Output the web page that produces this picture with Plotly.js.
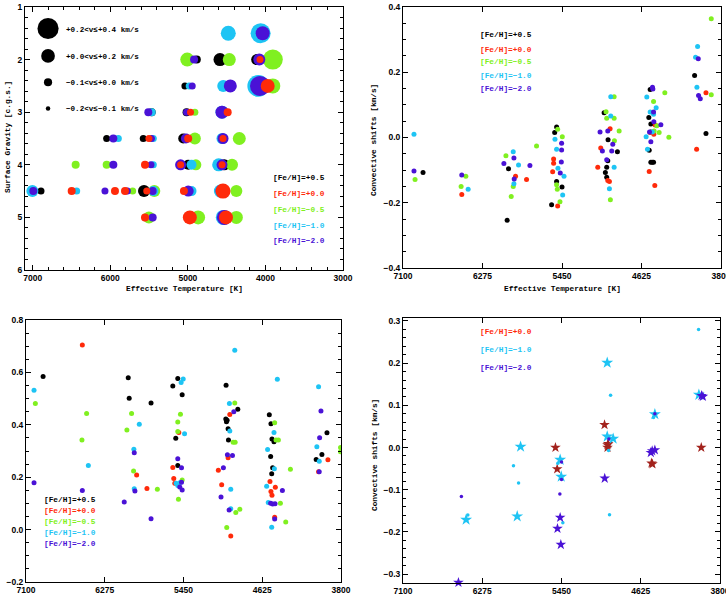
<!DOCTYPE html>
<html><head><meta charset="utf-8">
<script src="https://cdn.plot.ly/plotly-3.0.1.min.js"></script>
<style>html,body{margin:0;padding:0;background:#fff}#g{width:726px;height:596px}</style>
</head><body><div id="g"></div>
<script>
// ---------- Panel 1 : Teff / log g grid, bubble size = convective shift (km/s)
const p1Black_T = [4885,4586,4113,5038,4544,5467,5017,6047,5575,5060,4996,4530,6894,5566,4975];
const p1Black_g = [2.0,2.0,2.0,2.5,2.5,3.0,3.0,3.5,3.5,3.5,4.0,4.0,4.5,4.5,4.5];
const p1Black_v = [-0.054,0.081,0.027,-0.08,-0.054,-0.054,-0.054,-0.08,-0.08,0.0,0.0,0.027,-0.08,0.054,-0.027];

const p1Red_T = [4070,3971,4966,4487,5502,4996,4547,5553,5094,4560,6498,5940,5811,5530,5051,4547,5553,4975,4509];
const p1Red_g = [2.0,2.5,3.0,3.0,3.5,3.5,3.5,4.0,4.0,4.0,4.5,4.5,4.5,4.5,4.5,4.5,5.0,5.0,5.0];
const p1Red_v = [-0.08,0.108,-0.08,-0.054,-0.08,-0.054,-0.08,-0.054,-0.08,-0.08,-0.054,-0.054,-0.054,-0.08,-0.054,0.135,-0.054,0.108,0.108];

const p1Green_T = [5008,4466,3905,3905,4910,4910,4337,6447,6047,4897,4431,5712,5433,4375,5502,4868,4375];
const p1Green_g = [2.0,2.0,2.0,2.5,3.0,3.5,3.5,4.0,4.0,4.0,4.0,4.5,4.5,4.5,5.0,5.0,5.0];
const p1Green_v = [0.108,0.081,0.27,0.135,-0.08,0.054,0.081,-0.054,-0.054,0.027,0.054,-0.08,0.054,0.054,0.054,0.108,0.081];

const p1Cyan_T = [4479,4062,4983,4544,4092,5467,4560,5897,5446,4560,5446,4953,4603,7005,6434,5445,4953,4581,4544];
const p1Cyan_g = [1.5,1.5,2.5,2.5,2.5,3.0,3.0,3.5,3.5,3.5,4.0,4.0,4.0,4.5,4.5,4.5,4.5,4.5,5.0];
const p1Cyan_v = [0.135,0.27,-0.08,0.054,0.32,-0.054,0.081,-0.08,-0.08,0.027,-0.08,0.0,0.081,0.054,-0.08,0.0,0.0,0.081,0.135];

const p1Purple_T = [4036,4920,4079,4944,4453,4070,5510,5017,4560,5961,5470,5025,4547,5961,5476,5094,4560,6993,6069,5780,5454,4996,4560,5454,4530];
const p1Purple_g = [1.5,2.0,2.0,2.5,2.5,2.5,3.0,3.0,3.0,3.5,3.5,3.5,3.5,4.0,4.0,4.0,4.0,4.5,4.5,4.5,4.5,4.5,4.5,5.0,5.0];
const p1Purple_v = [0.108,-0.054,0.054,-0.08,0.081,0.27,-0.054,-0.08,0.081,-0.054,-0.08,0.0,0.027,-0.054,-0.08,0.027,0.027,-0.054,-0.08,-0.08,-0.054,0.027,0.081,-0.054,0.135];

// size legend (representative shifts) and its labels
const p1Key_v = [0.3, 0.1, -0.05, -0.15];
const p1Key_g = [1.41, 1.93, 2.43, 2.93];
const p1Key_T = [6803, 6803, 6803, 6803];
const p1Key_labels = ["+0.2<v≤+0.4 km/s","+0.0<v≤+0.2 km/s","−0.1<v≤+0.0 km/s","−0.2<v≤−0.1 km/s"];

// ---------- Panel 2 : Teff vs convective shift
const p2Black_T = [6892,6019,6005,5558,5526,5506,5506,5450,5013,5000,4986,4986,4975,4972,4875,4549,4535,4528,4528,4545,4528,4514,4500,4074,3956];
const p2Black_v = [-0.107,-0.254,-0.096,-0.206,0.015,0.032,-0.135,-0.152,0.076,-0.107,-0.091,-0.122,-0.071,-0.007,-0.044,0.061,0.147,0.041,0.017,-0.039,-0.076,-0.076,-0.076,0.190,0.012];
const p2Red_T = [6490,5932,5818,5547,5537,5537,5495,5079,5048,4975,4958,4951,4545,4535,4497,4487,4483,4053,3956];
const p2Red_v = [-0.175,-0.119,-0.129,-0.105,-0.079,-0.066,-0.210,-0.091,-0.032,-0.132,-0.135,0.027,-0.104,0.015,0.010,-0.147,0.038,-0.036,0.137];
const p2Green_T = [6975,6448,6497,6032,5977,5956,5714,5495,5506,5499,5471,5447,4993,4986,4909,4909,4906,4948,4857,4500,4494,4466,4442,4383,4341,3901,3901];
const p2Green_v = [-0.129,-0.119,-0.150,-0.056,-0.181,-0.150,-0.026,0.025,-0.145,-0.159,-0.197,0.002,0.079,0.059,0.125,0.059,-0.010,-0.191,0.020,0.110,0.020,0.036,0.015,0.137,0.001,0.364,0.131];
const p2Cyan_T = [6986,6424,5956,5949,5901,5523,5506,5492,5443,5429,4944,4944,4958,4909,4577,4570,4563,4535,4514,4473,4500,4064,4043,4050];
const p2Cyan_v = [0.010,-0.159,-0.044,-0.142,-0.084,-0.005,-0.036,-0.094,-0.176,-0.119,0.125,0.066,-0.157,-0.091,0.002,0.124,-0.036,0.078,0.017,0.091,0.071,0.246,0.279,0.154];
const p2Purple_T = [6986,6490,6053,5949,5946,5783,5468,5457,5454,5454,5055,5031,4986,4975,4934,4923,4542,4528,4511,4507,4500,4497,4424,4036,4033,4015];
const p2Purple_v = [-0.103,-0.115,-0.080,-0.063,-0.127,-0.086,-0.109,-0.075,-0.018,-0.038,0.017,-0.041,-0.068,0.020,-0.041,-0.021,0.017,-0.013,0.154,0.149,0.078,0.048,0.039,0.241,0.129,0.119];

// ---------- Panel 3
const p3Black_T = [6921,6029,6019,5790,5562,5510,5464,5531,5510,5004,5007,5000,4993,4983,4979,4881,4551,4534,4537,4523,4516,4526,4502,4060,4000,3947];
const p3Black_v = [0.584,0.580,0.501,0.483,0.548,0.577,0.515,0.349,0.245,0.551,0.422,0.412,0.417,0.385,0.342,0.459,0.438,0.404,0.279,0.346,0.236,0.213,0.335,0.268,0.287,0.370];
const p3Red_T = [6510,5941,5833,5562,5552,5541,5499,5085,5050,4983,4965,4955,4544,4534,4523,4488,4495,4035,3937];
const p3Red_v = [0.705,0.208,0.157,0.237,0.195,0.177,0.371,0.227,0.171,0.274,0.439,-0.024,0.184,0.145,0.131,0.162,0.047,0.221,0.267];
const p3Green_T = [7002,6514,6465,6043,5994,5973,5724,5510,5510,5482,5503,5464,4997,4930,4913,4902,4860,4909,4495,4481,4456,4435,4379,4330,3805,3805];
const p3Green_v = [0.481,0.342,0.443,0.380,0.443,0.224,0.154,0.411,0.374,0.440,0.116,0.189,0.008,0.333,0.483,0.065,0.078,0.333,0.408,0.342,0.342,0.101,0.029,0.230,0.313,0.297];
const p3Cyan_T = [7016,6447,5970,5966,5913,5527,5510,5485,5475,5453,5439,4969,4965,4955,4955,4913,4579,4569,4562,4526,4502,4498,4467,4053,4035,4028];
const p3Cyan_v = [0.532,0.245,0.307,0.156,0.402,0.177,0.168,0.180,0.561,0.575,0.366,0.481,0.376,0.154,0.080,0.685,0.165,0.306,0.103,0.009,0.371,0.232,0.574,0.316,0.545,0.261];
const p3Purple_T = [7016,6510,6071,5966,5959,5790,5510,5471,5471,5489,5464,5057,5032,4990,4972,4937,4923,4537,4516,4491,4495,4414,4028,4024,4010];
const p3Purple_v = [0.179,0.149,0.105,0.293,0.147,0.041,0.270,0.236,0.181,0.163,0.151,0.124,0.236,0.286,0.075,0.283,0.450,0.101,0.098,0.099,0.040,0.149,0.221,0.351,0.453];

// ---------- Panel 4
const p4CyanStar_T = [6443,5911,5876,5464,5453,4974,4974,4912,4478,4020];
const p4CyanStar_v = [-0.171,-0.163,0.002,-0.029,-0.069,0.201,0.026,0.021,0.079,0.125];
const p4CyanDot_T = [6425,5950,5897,5488,5436,4939,4960,4950,4492,4023];
const p4CyanDot_v = [-0.160,-0.043,-0.084,-0.037,-0.178,0.124,-0.007,-0.159,0.071,0.280];
const p4PurpleStar_T = [6523,5492,5464,5457,5000,4520,4506,4478,3978,3992];
const p4PurpleStar_v = [-0.320,-0.192,-0.166,-0.230,-0.073,-0.012,-0.008,-0.006,0.121,0.123];
const p4PurpleDot_T = [6492,5467,5450,5450,4957,4478];
const p4PurpleDot_v = [-0.116,-0.110,-0.034,-0.076,0.020,0.080];
const p4RedStar_T = [5513,5495,5002,4971,4971,4964,4513,4503,3995];
const p4RedStar_v = [0.000,-0.051,0.054,0.006,0.000,0.009,-0.037,-0.039,0.000];

const tempTicks = [7100, 6275, 5450, 4625, 3800];
const feLabels = ["[Fe/H]=+0.5","[Fe/H]=+0.0","[Fe/H]=−0.5","[Fe/H]=−1.0","[Fe/H]=−2.0"];
const xTitle = "Effective Temperature [K]";
const gTitle = "Surface Gravity [c.g.s.]";
const vTitle = "Convective shifts [km/s]";

// ---------- styling
const C = {black:'#000000', red:'#ff2a0a', green:'#80f020', cyan:'#1ec4f4', purple:'#4a12d6', dred:'#a2221c'};
const W = 726, H = 596;
const px = v => v / W, py = v => 1 - v / H;
const bubble = v => Math.max(4, 10 + 37 * v);

const traces = [];
function dots(x, y, color, xa, ya, size, symbol, extra) {
  traces.push(Object.assign({type:'scatter', mode:'markers', x:x, y:y, xaxis:xa, yaxis:ya,
    marker:{color:color, size:size, opacity:1, symbol:symbol || 'circle', line:{width:0}}, hoverinfo:'skip'}, extra || {}));
}
// panel 1 (draw order: black, green, cyan, purple, red)
dots(p1Black_T, p1Black_g, C.black, 'x', 'y', p1Black_v.map(bubble));
dots(p1Green_T, p1Green_g, C.green, 'x', 'y', p1Green_v.map(bubble));
dots(p1Cyan_T, p1Cyan_g, C.cyan, 'x', 'y', p1Cyan_v.map(bubble));
dots(p1Purple_T, p1Purple_g, C.purple, 'x', 'y', p1Purple_v.map(bubble));
dots(p1Red_T, p1Red_g, C.red, 'x', 'y', p1Red_v.map(bubble));
dots(p1Key_T, p1Key_g, C.black, 'x', 'y', p1Key_v.map(bubble));
// panel 2
dots(p2Black_T, p2Black_v, C.black, 'x2', 'y2', 5);
dots(p2Red_T, p2Red_v, C.red, 'x2', 'y2', 5);
dots(p2Green_T, p2Green_v, C.green, 'x2', 'y2', 5);
dots(p2Cyan_T, p2Cyan_v, C.cyan, 'x2', 'y2', 5);
dots(p2Purple_T, p2Purple_v, C.purple, 'x2', 'y2', 5);
// panel 3
dots(p3Black_T, p3Black_v, C.black, 'x3', 'y3', 5);
dots(p3Red_T, p3Red_v, C.red, 'x3', 'y3', 5);
dots(p3Green_T, p3Green_v, C.green, 'x3', 'y3', 5);
dots(p3Cyan_T, p3Cyan_v, C.cyan, 'x3', 'y3', 5);
dots(p3Purple_T, p3Purple_v, C.purple, 'x3', 'y3', 5);
// panel 4
dots(p4RedStar_T, p4RedStar_v, C.dred, 'x4', 'y4', 8, 'star');
dots(p4CyanStar_T, p4CyanStar_v, C.cyan, 'x4', 'y4', 9, 'star');
dots(p4CyanDot_T, p4CyanDot_v, C.cyan, 'x4', 'y4', 3.5);
dots(p4PurpleStar_T, p4PurpleStar_v, C.purple, 'x4', 'y4', 8, 'star', {cliponaxis:false});
dots(p4PurpleDot_T, p4PurpleDot_v, C.purple, 'x4', 'y4', 3.5);

const tickFont = {family:'Liberation Sans, Arial, sans-serif', size:8.5, color:'#000', weight:'bold'};
const titleFont = {family:'Liberation Mono, DejaVu Sans Mono, monospace', size:7.8, color:'#000', weight:'bold'};
function axis(domain, range, anchor, o) {
  return Object.assign({domain:domain, range:range, anchor:anchor, showline:true, linecolor:'#000', linewidth:1,
    mirror:'allticks', ticks:'inside', ticklen:5, tickcolor:'#000', showgrid:false, zeroline:false,
    tickfont:tickFont, automargin:false, fixedrange:true, ticklabeloverflow:'allow'}, o);
}
const minor = (d) => ({dtick:d, ticks:'inside', ticklen:3, tickcolor:'#000', showgrid:false});

const layout = {
  width:W, height:H, margin:{l:0, r:0, t:0, b:0}, paper_bgcolor:'#fff', plot_bgcolor:'#fff', showlegend:false,
  xaxis: axis([px(25), px(343)], [7100, 3000], 'y', {tickmode:'array', tickvals:[7000,6000,5000,4000,3000], minor:minor(200)}),
  yaxis: axis([py(270), py(7)], [6, 1], 'x', {dtick:1, minor:minor(0.2)}),
  xaxis2: axis([px(403), px(721)], [7100, 3800], 'y2', {tickmode:'array', tickvals:tempTicks}),
  yaxis2: axis([py(268), py(7)], [-0.4, 0.4], 'x2', {dtick:0.2, tickformat:'.1f', minor:minor(0.05)}),
  xaxis3: axis([px(26), px(341)], [7100, 3800], 'y3', {tickmode:'array', tickvals:tempTicks}),
  yaxis3: axis([py(582), py(320)], [-0.2, 0.8], 'x3', {dtick:0.2, tickformat:'.1f', minor:minor(0.05)}),
  xaxis4: axis([px(403), px(720)], [7100, 3800], 'y4', {tickmode:'array', tickvals:tempTicks}),
  yaxis4: axis([py(583), py(318)], [-0.321, 0.307], 'x4', {dtick:0.1, tickformat:'.1f', minor:minor(0.02)}),
  annotations: []
};
const legFont = (c, s) => ({family:'Liberation Mono, DejaVu Sans Mono, monospace', size:s || 7.8, color:c, weight:'bold'});
function note(text, x, y, color, size) {
  layout.annotations.push({text:text, xref:'paper', yref:'paper', x:px(x), y:py(y), xanchor:'left', yanchor:'middle',
    showarrow:false, font:legFont(color, size)});
}
function title(text, x, y, angle) {
  layout.annotations.push({text:text, xref:'paper', yref:'paper', x:px(x), y:py(y), xanchor:'center', yanchor:'middle',
    textangle:angle || 0, showarrow:false, font:titleFont});
}
const feColors = [C.black, C.red, C.green, C.cyan, C.purple];
p1Key_labels.forEach((t, i) => note(t, 64, [30, 57, 83, 109][i], C.black, 7.6));
feLabels.forEach((t, i) => note(t, 271, [178, 194, 210, 226, 241][i], feColors[i]));
feLabels.forEach((t, i) => note(t, 478, [35, 50, 62, 76, 89][i], feColors[i]));
feLabels.forEach((t, i) => note(t, 42, [500, 511, 522, 533, 544][i], feColors[i]));
[1, 3, 4].forEach((k, i) => note(feLabels[k], 478, [332, 350, 368][i], feColors[k]));
title(xTitle, 184, 289);
title(xTitle, 562, 289);
title(gTitle, 8, 137, -90);
title(vTitle, 374, 140, -90);
title(vTitle, 375, 455, -90);

Plotly.newPlot('g', traces, layout, {staticPlot:true});
</script></body></html>
